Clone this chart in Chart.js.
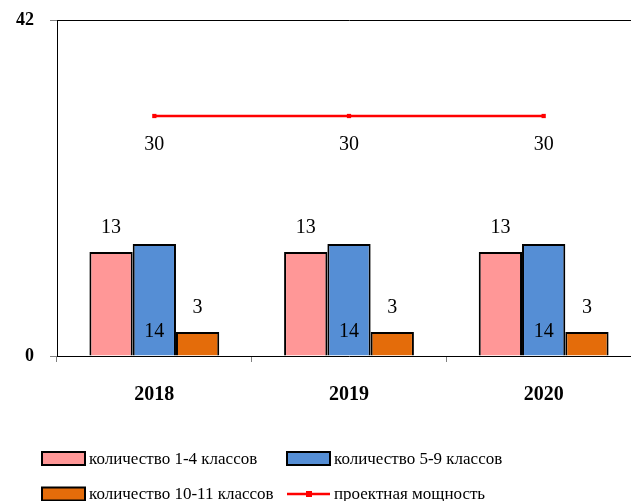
<!DOCTYPE html>
<html>
<head>
<meta charset="utf-8">
<script src="https://cdn.jsdelivr.net/npm/chart.js@4/dist/chart.umd.min.js"></script>
<style>
html, body { margin: 0; padding: 0; overflow: hidden; background: #fff; }
#wrap { width: 645px; height: 501px; position: relative; }
</style>
</head>
<body>
<div id="wrap"><canvas id="myChart"></canvas></div>
<script>
// данные с картинки
const years = ['2018', '2019', '2020'];
const klassy1_4 = [13, 13, 13];
const klassy5_9 = [14, 14, 14];
const klassy10_11 = [3, 3, 3];
const moshchnost = [30, 30, 30];
const yTicks = [0, 42];
const names = ['количество 1-4 классов', 'количество 5-9 классов', 'количество 10-11 классов', 'проектная мощность'];

(() => {
    const serif = '"Liberation Serif", "DejaVu Serif", serif';
    const ctx = document.getElementById('myChart').getContext('2d');

    // подписи значений как в Excel
    const labelsPlugin = {
        id: 'valueLabels',
        afterDatasetsDraw(chart) {
            const c = chart.ctx;
            c.save();
            c.font = '20px ' + serif;
            c.fillStyle = '#000';
            c.textAlign = 'center';
            c.textBaseline = 'middle';
            chart.data.datasets.forEach((ds, i) => {
                const meta = chart.getDatasetMeta(i);
                meta.data.forEach((el, j) => {
                    const v = ds.data[j];
                    let y;
                    if (i === 1) y = el.base - 24;       // 14 внутри столбца
                    else if (i === 3) y = el.y + 29;     // 30 под линией
                    else y = el.y - 24;
                    c.fillText(String(v), el.x, y);
                });
            });
            c.restore();
        }
    };

    // легенда в две колонки
    const legendPlugin = {
        id: 'twoColLegend',
        afterDraw(chart) {
            const c = chart.ctx;
            const cols = [42, 287];
            const rows = [458.5, 494];
            c.save();
            c.font = '17px ' + serif;
            c.textBaseline = 'middle';
            c.textAlign = 'left';
            chart.data.datasets.forEach((ds, i) => {
                const x = cols[i % 2];
                const y = rows[Math.floor(i / 2)];
                if (ds.type === 'line') {
                    c.strokeStyle = ds.borderColor;
                    c.lineWidth = 2.5;
                    c.beginPath();
                    c.moveTo(x, y);
                    c.lineTo(x + 43, y);
                    c.stroke();
                    c.fillStyle = ds.borderColor;
                    c.fillRect(x + 19, y - 3, 6, 6);
                } else {
                    c.fillStyle = ds.backgroundColor;
                    c.fillRect(x, y - 6.5, 43, 13);
                    c.strokeStyle = '#000';
                    c.lineWidth = 2;
                    c.strokeRect(x, y - 6.5, 43, 13);
                }
                c.fillStyle = '#000';
                c.fillText(ds.label, x + 47, y + 1);
            });
            c.restore();
        }
    };

    const myChart1 = new Chart(ctx, {
        type: 'bar',
        data: {
            labels: years,
            datasets: [
                {
                    label: names[0],
                    data: klassy1_4,
                    backgroundColor: '#FF9797',
                    borderColor: '#000',
                    borderWidth: 2,
                    order: 2
                },
                {
                    label: names[1],
                    data: klassy5_9,
                    backgroundColor: '#558ED5',
                    borderColor: '#000',
                    borderWidth: 2,
                    order: 2
                },
                {
                    label: names[2],
                    data: klassy10_11,
                    backgroundColor: '#E46C0A',
                    borderColor: '#000',
                    borderWidth: 2,
                    order: 2
                },
                {
                    type: 'line',
                    label: names[3],
                    data: moshchnost,
                    borderColor: '#FF0000',
                    backgroundColor: '#FF0000',
                    borderWidth: 2.5,
                    pointStyle: 'rect',
                    pointRadius: 3,
                    pointBorderWidth: 0,
                    fill: false,
                    order: 1
                }
            ]
        },
        options: {
            responsive: true,
            maintainAspectRatio: false,
            animation: false,
            datasets: {
                bar: { categoryPercentage: 0.667, barPercentage: 1.0 }
            },
            layout: { padding: { top: 20, right: 0, bottom: 95, left: 0 } },
            plugins: {
                legend: { display: false },
                tooltip: { enabled: false }
            },
            scales: {
                x: {
                    offset: true,
                    grid: {
                        display: true,
                        drawOnChartArea: false,
                        drawTicks: true,
                        tickLength: 6,
                        tickColor: '#808080'
                    },
                    border: { display: true, color: '#000', width: 1 },
                    ticks: {
                        color: '#000',
                        padding: 21,
                        font: { family: serif, size: 20, weight: 'bold' }
                    },
                    afterFit: s => { s.height = 50; }
                },
                y: {
                    min: 0,
                    max: 42,
                    afterBuildTicks: s => { s.ticks = yTicks.map(v => ({ value: v })); },
                    grid: {
                        color: c => (c.tick && c.tick.value === 42) ? '#000' : 'rgba(0,0,0,0)',
                        drawTicks: true,
                        tickLength: 7,
                        tickColor: '#808080'
                    },
                    border: { display: true, color: '#000', width: 1 },
                    ticks: {
                        color: '#000',
                        padding: 16,
                        // маленький lineHeight, чтобы подпись не сдвигала верх графика
                        font: { family: serif, size: 18, weight: 'bold', lineHeight: 0.1 }
                    },
                    afterFit: s => { s.width = 57; }
                }
            }
        },
        plugins: [labelsPlugin, legendPlugin]
    });
})();
</script>
</body>
</html>
